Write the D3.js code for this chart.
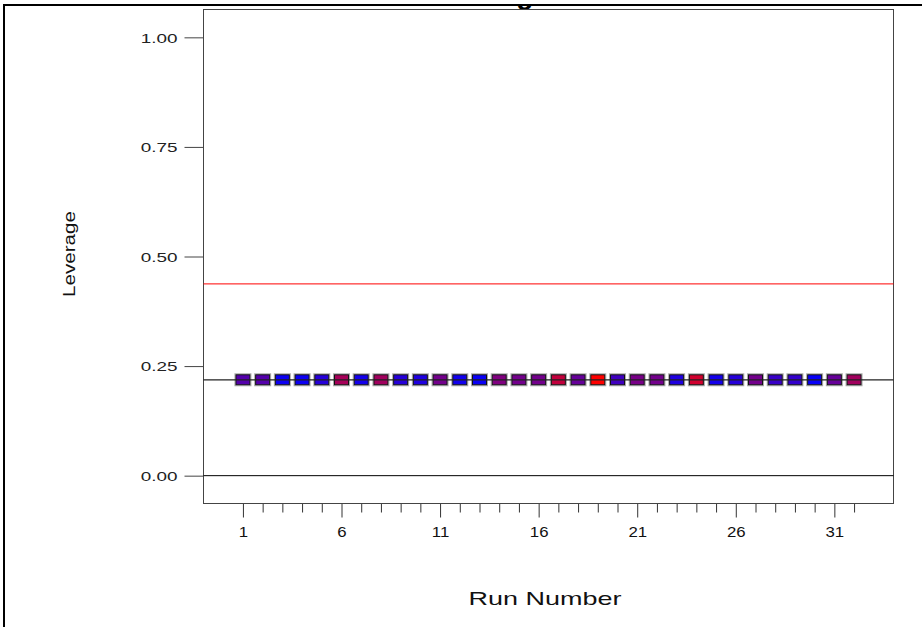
<!DOCTYPE html>
<html><head><meta charset="utf-8">
<script src="https://cdn.jsdelivr.net/npm/d3@7/dist/d3.min.js"></script>
<style>body{margin:0;background:#fff}svg{display:block}</style>
</head><body><svg id="c" width="922" height="627"></svg>
<script>
// ---- data ----
const runs = [1,2,3,4,5,6,7,8,9,10,11,12,13,14,15,16,17,18,19,20,21,22,23,24,25,26,27,28,29,30,31,32];
const leverage = [0.21875,0.21875,0.21875,0.21875,0.21875,0.21875,0.21875,0.21875,0.21875,0.21875,0.21875,0.21875,0.21875,0.21875,0.21875,0.21875,
                  0.21875,0.21875,0.21875,0.21875,0.21875,0.21875,0.21875,0.21875,0.21875,0.21875,0.21875,0.21875,0.21875,0.21875,0.21875,0.21875];
// colour value of each point (0 = blue, 1 = red)
const colorValue = [0.33,0.33,0.05,0.05,0.15,0.65,0.08,0.63,0.15,0.12,0.45,0.07,0.04,0.5,0.45,0.45,
                    0.76,0.4,1.0,0.25,0.47,0.45,0.12,0.82,0.08,0.15,0.45,0.22,0.2,0.03,0.4,0.63];
const avgLeverage = 0.21875;
const limitLeverage = 0.4375;
const yTicks = [0,0.25,0.5,0.75,1];
const xMajorTicks = [1,6,11,16,21,26,31];
const titleText = "Leverage";
const yLabel = "Leverage";
const xLabel = "Run Number";

// ---- layout ----
const L = 203.5, R = 893.5, T = 9.5, B = 503.5;
const svg = d3.select("#c");
const x = d3.scaleLinear().domain([-1, 34]).range([L, R]);
const y = d3.scaleLinear().domain([-0.0635, 1.0635]).range([B, T]);
const color = d3.scaleLinear().domain([0,1]).range(["#0000ff","#ff0000"]).interpolate(d3.interpolateRgb);
const font = "'Liberation Sans', Arial, sans-serif";

// outer frame
svg.append("line").attr("x1",3).attr("x2",922).attr("y1",5).attr("y2",5).attr("stroke","#000").attr("stroke-width",2);
svg.append("line").attr("x1",4).attr("x2",4).attr("y1",4).attr("y2",627).attr("stroke","#000").attr("stroke-width",2);

// clipped title (only descender visible, as in the reference)
svg.append("clipPath").attr("id","tclip").append("rect").attr("x",0).attr("y",6).attr("width",922).attr("height",4);
svg.append("text").attr("clip-path","url(#tclip)")
  .attr("x", 426).attr("y", 4)
  .attr("font-family", font).attr("font-size", 28).attr("font-weight","bold").text(titleText);

// y axis
const yAxis = d3.axisLeft(y).tickValues(yTicks).tickSize(19).tickPadding(7).tickFormat(d3.format(".2f"));
const gy = svg.append("g").attr("transform", `translate(${L},0)`).call(yAxis);
gy.select(".domain").remove();
gy.selectAll(".tick line").attr("stroke","#444");
gy.selectAll(".tick text").attr("font-family", font).attr("font-size", 13.5).attr("fill","#222")
  .attr("x", null).attr("dy","0.36em")
  .attr("transform","translate(-26,0) scale(1.4,1)");

// x axis
const xAxis = d3.axisBottom(x).tickValues(runs).tickSize(9).tickPadding(14)
  .tickFormat(d => xMajorTicks.includes(d) ? String(d) : "");
const gx = svg.append("g").attr("transform", `translate(0,${B})`).call(xAxis);
gx.select(".domain").remove();
gx.selectAll(".tick line").attr("stroke","#333").attr("y2", d => xMajorTicks.includes(d) ? 14 : 9);
gx.selectAll(".tick text").attr("font-family", font).attr("font-size", 14).attr("fill","#111")
  .attr("y", null).attr("dy", null)
  .attr("transform","translate(0,33) scale(1.2,1)");

// plot box
svg.append("rect").attr("x",L).attr("y",T).attr("width",R-L).attr("height",B-T)
  .attr("fill","none").attr("stroke","#444").attr("stroke-width",1);

// reference lines
svg.append("line").attr("x1",L).attr("x2",R).attr("y1",y(0)).attr("y2",y(0)).attr("stroke","#000");
svg.append("line").attr("x1",L).attr("x2",R).attr("y1",y(limitLeverage)).attr("y2",y(limitLeverage)).attr("stroke","#ff0000");

// markers
const pts = runs.map((r,i) => ({run:r, lev:leverage[i], c:colorValue[i]}));
const mk = svg.append("g");
mk.selectAll("rect.halo").data(pts).join("rect").attr("class","halo")
  .attr("x", d => x(d.run)-8).attr("y", d => y(d.lev)-6).attr("width",16).attr("height",12)
  .attr("fill","none").attr("stroke","#aaa").attr("stroke-width",1);
mk.selectAll("rect.pt").data(pts).join("rect").attr("class","pt")
  .attr("x", d => x(d.run)-7).attr("y", d => y(d.lev)-5).attr("width",14).attr("height",10)
  .attr("fill", d => color(d.c)).attr("stroke","#111").attr("stroke-width",1);

// average line on top
svg.append("line").attr("x1",L).attr("x2",R).attr("y1",y(avgLeverage)).attr("y2",y(avgLeverage)).attr("stroke","#222").attr("stroke-width",1.2);

// axis titles
svg.append("text").attr("font-family", font).attr("font-size", 16.5).attr("fill","#111")
  .attr("text-anchor","middle")
  .attr("transform","translate(75,254) rotate(-90) scale(1.25,1)").text(yLabel);
svg.append("text").attr("font-family", font).attr("font-size", 19).attr("fill","#111")
  .attr("text-anchor","middle")
  .attr("transform","translate(545,605) scale(1.42,1)").text(xLabel);
</script></body></html>
